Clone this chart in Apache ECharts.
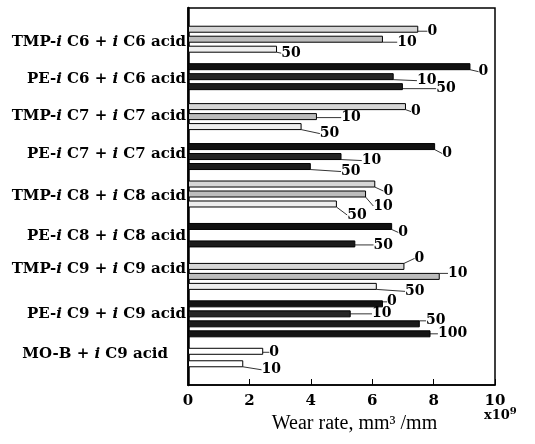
<!DOCTYPE html>
<html>
<head>
<meta charset="utf-8">
<script src="https://cdn.jsdelivr.net/npm/echarts@6/dist/echarts.min.js"></script>
<style>
  html, body { margin: 0; padding: 0; background: #fff; }
  #chart { width: 535px; height: 444px; }
</style>
</head>
<body>
<div id="chart"></div>
<script>
// Lubricant / acid combinations (top to bottom)
const groups = [
    'TMP-iC6 + iC6 acid', 'PE-iC6 + iC6 acid', 'TMP-iC7 + iC7 acid',
    'PE-iC7 + iC7 acid', 'TMP-iC8 + iC8 acid', 'PE-iC8 + iC8 acid',
    'TMP-iC9 + iC9 acid', 'PE-iC9 + iC9 acid', 'MO-B + iC9 acid'
];
// Acid concentration of each bar
const concentrations = ['0', '10', '50', '100'];

// Wear rate, x10^-9 mm3/mm
const wear0   = [7.5, 9.2, 7.1, 8.05, 6.1, 6.65, 7.05, 6.35, 2.45];
const wear10  = [6.35, 6.7, 4.2, 5.0, 5.8, null, 8.2, 5.3, 1.8];
const wear50  = [2.9, 7.0, 3.7, 4.0, 4.85, 5.45, 6.15, 7.55, null];
const wear100 = [null, null, null, null, null, null, null, 7.9, null];

const xTicks = [0, 2, 4, 6, 8, 10];

// ---- layout (rows on a fine category grid, label nudges) ----
const ROWS = 151;
const barRows = [
    [8, 12, 16], [23, 27, 31], [39, 43, 47], [55, 59, 63], [70, 74, 78],
    [87, null, 94], [103, 107, 111], [118, 122, 126, 130], [137, 142]
];
const labelRows = [13, 28, 43, 58, 75, 91, 104, 122, 138];
const labelNudge = [
    [[14, 2], [24, 3], [14, 4]],
    [[13, 5], [33, 4], [43, 2]],
    [[10, 5], [34, 1], [28, 7]],
    [[12, 7], [30, 4], [40, 5]],
    [[13, 7], [17, 12], [20, 11]],
    [[11, 6], null, [28, 1]],
    [[15, -8], [18, -3], [38, 5]],
    [[9, -2], [31, 0], [16, -3], [22, 0]],
    [[11, 1], [28, 6]]
];

const wearSets = [wear0, wear10, wear50, wear100];

function barStyle(g, k) {
    const name = groups[g];
    if (name.indexOf('TMP') === 0) {
        const fills = ['#d6d6d6', '#bcbcbc', '#eeeeee', '#dddddd'];
        return { color: fills[k], borderColor: '#000', borderWidth: 1 };
    }
    if (name.indexOf('PE') === 0) {
        const fills = ['#111111', '#262626', '#1c1c1c', '#141414'];
        return { color: fills[k], borderColor: '#000', borderWidth: 1 };
    }
    return { color: '#ffffff', borderColor: '#000', borderWidth: 1 };
}

function richName(name) {
    // italic "i" prefix on the iso-acid parts
    const parts = name.split(/i(?=C\d)/);
    let out = '';
    parts.forEach((p, idx) => {
        out += '{n|' + p + '}';
        if (idx < parts.length - 1) out += '{i|i }';
    });
    if (name.indexOf('MO-B') === 0) out += '{s|}';
    return out;
}

const rowNames = [];
for (let r = 0; r < ROWS; r++) rowNames.push('r' + r);

const labelMap = {};
labelRows.forEach((r, g) => { labelMap[r] = richName(groups[g]); });

const series = concentrations.map((c, k) => {
    const data = new Array(ROWS).fill(null);
    wearSets[k].forEach((v, g) => {
        if (v == null) return;
        const row = barRows[g][k];
        data[row] = { value: v, itemStyle: barStyle(g, k), nudge: labelNudge[g][k] };
    });
    return {
        name: c,
        type: 'bar',
        data: data,
        barWidth: 7,
        barGap: '-100%',
        animation: false,
        label: {
            show: true,
            position: 'right',
            formatter: c,
            color: '#000',
            fontFamily: 'DejaVu Serif',
            fontWeight: 'bold',
            fontSize: 14
        },
        labelLine: {
            show: true,
            lineStyle: { color: '#000', width: 0.8 }
        },
        labelLayout: function (params) {
            const item = data[params.dataIndex];
            if (!item) return {};
            const n = item.nudge || [10, 0];
            const rect = params.rect;
            return {
                x: rect.x + rect.width + n[0],
                y: rect.y + rect.height / 2 + n[1],
                align: 'center',
                verticalAlign: 'middle'
            };
        }
    };
});

const chart = echarts.init(document.getElementById('chart'), null, { renderer: 'canvas' });

chart.setOption({
    backgroundColor: '#fff',
    animation: false,
    grid: {
        left: 188,
        right: 40,
        top: 8,
        bottom: 59,
        show: true,
        borderColor: '#000',
        borderWidth: 1.5
    },
    xAxis: {
        type: 'value',
        min: xTicks[0],
        max: xTicks[xTicks.length - 1],
        interval: 2,
        axisLine: { show: true, lineStyle: { color: '#000', width: 1.5 } },
        axisTick: { show: true, inside: true, length: 6, lineStyle: { color: '#000', width: 1 } },
        splitLine: { show: false },
        axisLabel: {
            color: '#000',
            fontFamily: 'DejaVu Serif',
            fontWeight: 'bold',
            fontSize: 15,
            margin: 9
        },
        name: 'Wear rate, mm³ /mm',
        nameLocation: 'middle',
        nameGap: 29,
        nameTextStyle: {
            color: '#000',
            fontFamily: 'Liberation Serif',
            fontSize: 20,
            padding: [0, 0, 0, 26]
        }
    },
    yAxis: {
        type: 'category',
        data: rowNames,
        inverse: true,
        axisLine: { show: true, lineStyle: { color: '#000', width: 2.5 } },
        axisTick: { show: false },
        axisLabel: {
            interval: 0,
            margin: 2,
            formatter: function (value, idx) { return labelMap[idx] || ''; },
            rich: {
                n: { fontFamily: 'DejaVu Serif', fontWeight: 'bold', fontSize: 15, color: '#000' },
                i: { fontFamily: 'DejaVu Serif', fontWeight: 'bold', fontStyle: 'italic', fontSize: 15, color: '#000' },
                s: { width: 18 }
            }
        }
    },
    graphic: [
        {
            type: 'text',
            left: 484,
            top: 406,
            style: {
                text: '{a|x10}{b|9}',
                rich: {
                    a: { fontFamily: 'DejaVu Serif', fontWeight: 'bold', fontSize: 13, fill: '#000' },
                    b: { fontFamily: 'DejaVu Serif', fontWeight: 'bold', fontSize: 10, fill: '#000', padding: [0, 0, 9, 0] }
                }
            }
        }
    ],
    series: series
});
</script>
</body>
</html>
